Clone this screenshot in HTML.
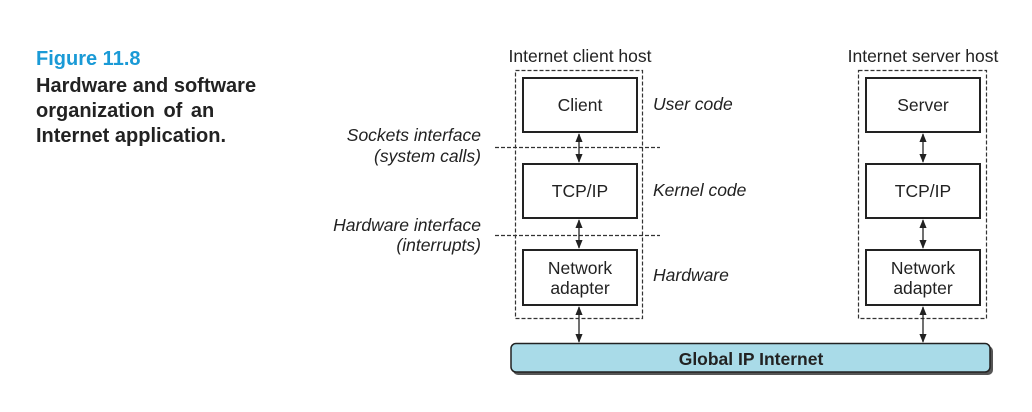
<!DOCTYPE html>
<html><head><meta charset="utf-8"><style>
body{margin:0;background:#fff;width:1032px;height:407px;overflow:hidden}
</style></head><body>
<svg width="1032" height="407" xmlns="http://www.w3.org/2000/svg" font-family="Liberation Sans, sans-serif">
<defs>
<marker id="a" viewBox="0 0 10 10" refX="9" refY="5" markerWidth="7" markerHeight="7" orient="auto-start-reverse"><path d="M0,1 L10,5 L0,9 z" fill="#222"/></marker>
</defs>
<g font-weight="bold" font-size="20">
<text x="36" y="65" fill="#1a9ad6">Figure 11.8</text>
<text x="36" y="92" fill="#222">Hardware and software</text>
<text x="36" y="117" fill="#222" word-spacing="3">organization of an</text>
<text x="36" y="142" fill="#222">Internet application.</text>
</g>
<g font-size="17.5" fill="#222">
<text x="580" y="62" text-anchor="middle">Internet client host</text>
<text x="923" y="62" text-anchor="middle">Internet server host</text>
</g>
<g fill="none" stroke="#333" stroke-width="1.2" stroke-dasharray="4,2">
<rect x="515.5" y="70.5" width="127" height="248"/>
<rect x="858.5" y="70.5" width="128" height="248"/>
<line x1="495" y1="147.5" x2="660" y2="147.5"/>
<line x1="495" y1="235.5" x2="660" y2="235.5"/>
</g>
<g fill="#fff" stroke="#222" stroke-width="2">
<rect x="523" y="78" width="114" height="54"/>
<rect x="523" y="164" width="114" height="54"/>
<rect x="523" y="250" width="114" height="55"/>
<rect x="866" y="78" width="114" height="54"/>
<rect x="866" y="164" width="114" height="54"/>
<rect x="866" y="250" width="114" height="55"/>
</g>
<g stroke="#222" stroke-width="1.3" marker-start="url(#a)" marker-end="url(#a)">
<line x1="579" y1="134" x2="579" y2="162"/>
<line x1="579" y1="220" x2="579" y2="248"/>
<line x1="579" y1="307" x2="579" y2="342"/>
<line x1="923" y1="134" x2="923" y2="162"/>
<line x1="923" y1="220" x2="923" y2="248"/>
<line x1="923" y1="307" x2="923" y2="342"/>
</g>
<rect x="513" y="346" width="480" height="29" rx="5" fill="#555"/>
<rect x="511" y="343.5" width="479" height="28.5" rx="5" fill="#a9dbe8" stroke="#222" stroke-width="1.5"/>
<text x="751" y="365" text-anchor="middle" font-weight="bold" font-size="17.5" fill="#222">Global IP Internet</text>
<g font-size="17.5" fill="#222" text-anchor="middle">
<text x="580" y="111">Client</text>
<text x="580" y="197">TCP/IP</text>
<text x="580" y="274">Network</text>
<text x="580" y="294">adapter</text>
<text x="923" y="111">Server</text>
<text x="923" y="197">TCP/IP</text>
<text x="923" y="274">Network</text>
<text x="923" y="294">adapter</text>
</g>
<g font-size="17.5" fill="#222" font-style="italic">
<text x="653" y="110">User code</text>
<text x="653" y="196">Kernel code</text>
<text x="653" y="281">Hardware</text>
<g text-anchor="end">
<text x="481" y="141">Sockets interface</text>
<text x="481" y="162">(system calls)</text>
<text x="481" y="231">Hardware interface</text>
<text x="481" y="251">(interrupts)</text>
</g>
</g>
</svg>
</body></html>
